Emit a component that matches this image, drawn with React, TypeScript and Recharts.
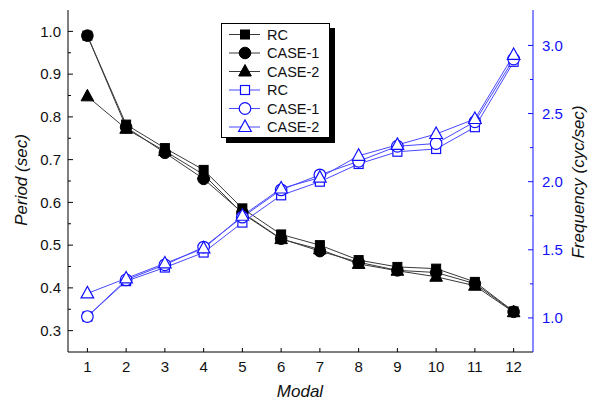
import React from 'react';
import { LineChart, Line, XAxis, YAxis, Label } from 'recharts';

const FONT = '"Liberation Sans", Arial, Helvetica, sans-serif';
const BLUE = '#1010ff';

const MODALS = [1, 2, 3, 4, 5, 6, 7, 8, 9, 10, 11, 12];

// Period (sec)
const PERIOD_RC = [0.99, 0.782, 0.727, 0.676, 0.586, 0.525, 0.5, 0.465, 0.449, 0.445, 0.414, 0.345];
const PERIOD_CASE1 = [0.99, 0.776, 0.716, 0.655, 0.576, 0.515, 0.486, 0.46, 0.441, 0.436, 0.41, 0.344];
const PERIOD_CASE2 = [0.848, 0.772, 0.72, 0.665, 0.574, 0.514, 0.49, 0.456, 0.44, 0.426, 0.405, 0.343];

// Frequency (cyc/sec)
const FREQ_RC = [1.01, 1.27, 1.37, 1.48, 1.7, 1.9, 2.0, 2.13, 2.22, 2.24, 2.4, 2.88];
const FREQ_CASE1 = [1.01, 1.28, 1.39, 1.52, 1.74, 1.94, 2.05, 2.15, 2.26, 2.28, 2.44, 2.9];
const FREQ_CASE2 = [1.18, 1.29, 1.4, 1.51, 1.75, 1.95, 2.03, 2.19, 2.27, 2.35, 2.46, 2.93];

const PERIOD_TICKS = [0.3, 0.4, 0.5, 0.6, 0.7, 0.8, 0.9, 1.0];
const PERIOD_MINOR = [0.35, 0.45, 0.55, 0.65, 0.75, 0.85, 0.95];
const FREQ_TICKS = [1.0, 1.5, 2.0, 2.5, 3.0];
const FREQ_MINOR = [1.25, 1.75, 2.25, 2.75];

type Shape = 'square' | 'circle' | 'triangle';

const SERIES: { key: string; name: string; axis: string; color: string; line: string; shape: Shape; filled: boolean }[] = [
  { key: 'rcP', name: 'RC', axis: 'period', color: '#000', line: '#3a3a3a', shape: 'square', filled: true },
  { key: 'c1P', name: 'CASE-1', axis: 'period', color: '#000', line: '#3a3a3a', shape: 'circle', filled: true },
  { key: 'c2P', name: 'CASE-2', axis: 'period', color: '#000', line: '#3a3a3a', shape: 'triangle', filled: true },
  { key: 'rcF', name: 'RC', axis: 'freq', color: BLUE, line: '#4848ff', shape: 'square', filled: false },
  { key: 'c1F', name: 'CASE-1', axis: 'freq', color: BLUE, line: '#4848ff', shape: 'circle', filled: false },
  { key: 'c2F', name: 'CASE-2', axis: 'freq', color: BLUE, line: '#4848ff', shape: 'triangle', filled: false },
];

const data = MODALS.map((m, i) => ({
  modal: m,
  rcP: PERIOD_RC[i],
  c1P: PERIOD_CASE1[i],
  c2P: PERIOD_CASE2[i],
  rcF: FREQ_RC[i],
  c1F: FREQ_CASE1[i],
  c2F: FREQ_CASE2[i],
}));

function Marker({ cx, cy, shape, filled, color }: { cx: number; cy: number; shape: Shape; filled: boolean; color: string }) {
  const fill = filled ? color : '#fff';
  const sw = filled ? 1 : 1.2;
  if (shape === 'square') {
    return <rect x={cx - 4.5} y={cy - 4.5} width={9} height={9} fill={fill} stroke={color} strokeWidth={sw} />;
  }
  if (shape === 'circle') {
    return <circle cx={cx} cy={cy} r={5.8} fill={fill} stroke={color} strokeWidth={sw} />;
  }
  return (
    <polygon
      points={`${cx},${cy - 7} ${cx + 6.3},${cy + 4.5} ${cx - 6.3},${cy + 4.5}`}
      fill={fill}
      stroke={color}
      strokeWidth={sw}
    />
  );
}

const near = (arr: number[], v: number) => arr.some((t) => Math.abs(t - v) < 1e-6);

function PeriodTick(props: any) {
  const { x, y, payload } = props;
  const major = near(PERIOD_TICKS, payload.value);
  return (
    <g>
      <line x1={x} x2={x + (major ? 5 : 3)} y1={y} y2={y} stroke="#000" />
      {major && (
        <text x={x - 7} y={y} dy="0.35em" textAnchor="end" fontSize={15} fontFamily={FONT} fill="#111">
          {payload.value.toFixed(1)}
        </text>
      )}
    </g>
  );
}

function FreqTick(props: any) {
  const { x, y, payload } = props;
  const major = near(FREQ_TICKS, payload.value);
  return (
    <g>
      <line x1={x} x2={x - (major ? 5 : 3)} y1={y} y2={y} stroke={BLUE} />
      {major && (
        <text x={x + 9} y={y} dy="0.35em" textAnchor="start" fontSize={15} fontFamily={FONT} fill={BLUE}>
          {payload.value.toFixed(1)}
        </text>
      )}
    </g>
  );
}

function ModalTick(props: any) {
  const { x, y, payload } = props;
  return (
    <g>
      <line x1={x} x2={x} y1={y} y2={y - 4} stroke="#000" />
      <text x={x} y={y + 20} textAnchor="middle" fontSize={15} fontFamily={FONT} fill="#111">
        {payload.value}
      </text>
    </g>
  );
}

function LegendBox() {
  return (
    <div
      style={{
        position: 'absolute',
        left: 221,
        top: 23,
        width: 109,
        height: 115,
        boxSizing: 'border-box',
        border: '1px solid #000',
        background: '#fff',
        boxShadow: '5px 5px 0 #000',
      }}
    >
      <svg width={107} height={113} style={{ display: 'block' }}>
        {SERIES.map((s, i) => {
          const y = 10.5 + i * 18.5;
          return (
            <g key={s.key}>
              <line x1={7} x2={38} y1={y} y2={y} stroke={s.line} />
              <Marker cx={23} cy={y} shape={s.shape} filled={s.filled} color={s.color} />
              <text x={45} y={y} dy="0.36em" fontSize={14.5} fontFamily={FONT} fill="#111">
                {s.name}
              </text>
            </g>
          );
        })}
      </svg>
    </div>
  );
}

export default function App() {
  return (
    <div style={{ position: 'relative', width: 598, height: 403, background: '#fff' }}>
      <style>{'body{margin:0}'}</style>
      <LineChart width={598} height={403} data={data} margin={{ top: 10, right: 0, bottom: 0, left: 0 }}>
        <XAxis
          xAxisId="top"
          orientation="top"
          type="number"
          dataKey="modal"
          domain={[0.5, 12.5]}
          height={0}
          tick={false}
          tickLine={false}
          axisLine={{ stroke: '#000' }}
        />
        <XAxis
          type="number"
          dataKey="modal"
          domain={[0.5, 12.5]}
          ticks={MODALS}
          interval={0}
          height={51}
          tickSize={0}
          tickMargin={0}
          tickLine={false}
          axisLine={{ stroke: '#000' }}
          tick={<ModalTick />}
        >
          <Label
            content={() => (
              <text x={300} y={397} textAnchor="middle" fontSize={17} fontStyle="italic" fontFamily={FONT} fill="#111">
                Modal
              </text>
            )}
          />
        </XAxis>
        <YAxis
          yAxisId="period"
          type="number"
          domain={[0.25, 1.05]}
          ticks={[...PERIOD_TICKS, ...PERIOD_MINOR].sort((a, b) => a - b)}
          interval={0}
          width={68}
          tickSize={0}
          tickMargin={0}
          tickLine={false}
          axisLine={{ stroke: '#000' }}
          tick={<PeriodTick />}
        >
          <Label
            content={() => (
              <text
                x={27}
                y={180}
                transform="rotate(-90 27 180)"
                textAnchor="middle"
                fontSize={17}
                fontStyle="italic"
                fontFamily={FONT}
                fill="#111"
              >
                Period (sec)
              </text>
            )}
          />
        </YAxis>
        <YAxis
          yAxisId="freq"
          orientation="right"
          type="number"
          domain={[0.75, 3.26]}
          ticks={[...FREQ_TICKS, ...FREQ_MINOR].sort((a, b) => a - b)}
          interval={0}
          width={65}
          tickSize={0}
          tickMargin={0}
          tickLine={false}
          axisLine={{ stroke: BLUE }}
          tick={<FreqTick />}
        >
          <Label
            content={() => (
              <text
                x={584}
                y={182}
                transform="rotate(-90 584 182)"
                textAnchor="middle"
                fontSize={17}
                fontStyle="italic"
                fontFamily={FONT}
                fill="#111"
              >
                Frequency (cyc/sec)
              </text>
            )}
          />
        </YAxis>
        {SERIES.map((s) => (
          <Line
            key={s.key}
            yAxisId={s.axis}
            dataKey={s.key}
            name={s.name}
            stroke={s.line}
            strokeWidth={1}
            isAnimationActive={false}
            dot={(p: any) => (
              <Marker key={`${s.key}-${p.index}`} cx={p.cx} cy={p.cy} shape={s.shape} filled={s.filled} color={s.color} />
            )}
            activeDot={false}
          />
        ))}
      </LineChart>
      <LegendBox />
    </div>
  );
}
